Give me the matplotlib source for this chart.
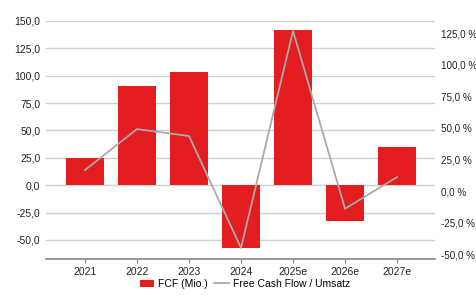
import numpy as np
import matplotlib
matplotlib.use("Agg")
from matplotlib import pyplot as plt
from matplotlib.ticker import FuncFormatter

plt.rcParams['font.family'] = ['Liberation Sans', 'DejaVu Sans']

years = ["2021", "2022", "2023", "2024", "2025e", "2026e", "2027e"]
fcf = [25.2, 90.5, 103.3, -57.3, 141.8, -33.0, 34.6]
fcf_margin = [16.6, 49.0, 43.5, -45.0, 126.6, -14.0, 11.0]

bar_color = "#e41e20"
line_color = "#aaaaaa"

fig = plt.figure(figsize=(4.77, 2.98), dpi=100)
ax = fig.add_axes([46 / 477, 1 - 259 / 298, (435 - 46) / 477, (259 - 21) / 298])
x = np.arange(len(years))

ax.bar(x, fcf, width=0.74, color=bar_color, zorder=2, label="FCF (Mio.)")
ax.set_ylim(-67.4, 150)
ax.set_yticks(np.arange(-50, 151, 25))
ax.yaxis.set_major_formatter(FuncFormatter(lambda v, p: f"{v:.1f}".replace(".", ",")))
ax.set_xlim(-0.75, 6.73)
ax.set_xticks(x)
ax.set_xticklabels(years)
ax.grid(axis="y", color="#d0d0d0", linewidth=1.0, zorder=0)
ax.set_axisbelow(True)
for s in ["top", "right", "left"]:
    ax.spines[s].set_visible(False)
ax.spines["bottom"].set_color("#888888")
ax.spines["bottom"].set_linewidth(1.2)
ax.tick_params(axis="y", length=0, labelsize=7.5, colors="#222222", pad=4)
ax.tick_params(axis="x", length=3, color="#888888", labelsize=7.5, colors="#222222", pad=3)

ax2 = ax.twinx()
ax2.plot(x, fcf_margin, color=line_color, linewidth=1.3, zorder=3, label="Free Cash Flow / Umsatz")
ax2.set_ylim(-53.8, 134.5)
ax2.set_yticks(np.arange(-50, 126, 25))
ax2.yaxis.set_major_formatter(FuncFormatter(lambda v, p: f"{v:.1f} %".replace(".", ",")))
for s in ["top", "right", "left", "bottom"]:
    ax2.spines[s].set_visible(False)
ax2.tick_params(axis="y", length=0, labelsize=7.1, colors="#222222", pad=4)

h1, l1 = ax.get_legend_handles_labels()
h2, l2 = ax2.get_legend_handles_labels()
fig.legend(h1 + h2, l1 + l2, loc="center", bbox_to_anchor=(245 / 477, 1 - 284 / 298),
           ncol=2, frameon=False, fontsize=7.5, handlelength=1.4, handletextpad=0.4,
           columnspacing=0.6, handleheight=0.7)

fig.savefig("out.png", dpi=100)
